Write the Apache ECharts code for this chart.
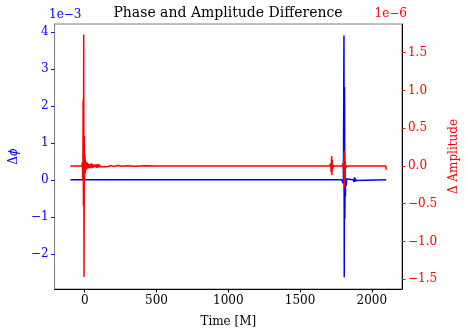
<!DOCTYPE html>
<html>
<head>
<meta charset="utf-8">
<script src="https://cdn.jsdelivr.net/npm/echarts@6/dist/echarts.min.js"></script>
<style>
  html, body { margin: 0; padding: 0; background: #fff; }
  #chart { width: 468px; height: 333px; }
</style>
</head>
<body>
<div id="chart"></div>
<script>
// tick labels
var xTicks = [0, 500, 1000, 1500, 2000];
var phaseTicks = [-2, -1, 0, 1, 2, 3, 4];
var ampTicks = [-1.5, -1.0, -0.5, 0.0, 0.5, 1.0, 1.5];

// phase difference, units of 1e-3: [time, value]
var phaseData = [
  [-100, 0], [1790, 0], [1798, 0.05], [1802, -0.1], [1806, 3.9], [1808, -2.63],
  [1810, 2.5], [1812, -1.05], [1814, 0.3], [1816, -0.45], [1818, 0.05],
  [1821, -0.15], [1825, 0.02], [1830, 0], [1870, 0], [1873, 0.04],
  [1876, -0.06], [1879, 0.07], [1882, -0.06], [1885, 0.04], [1889, -0.02],
  [1894, 0], [2100, 0]
];

// amplitude difference, units of 1e-6: [time, value]
var ampData = [
  [-100, 0], [-20, 0], [-16, 0.05], [-13, -0.2], [-11, 0.88], [-9, -0.53],
  [-7, 1.74], [-5, -1.47], [-3, 0.4], [-1, -0.2], [1, 0.15], [3, -0.1],
  [5, 0.08], [8, -0.06], [11, 0.05], [14, -0.04], [18, 0.04], [22, -0.035],
  [26, 0.03], [30, -0.025], [35, 0.02], [40, -0.03], [45, 0.035], [50, -0.03],
  [55, 0.025], [60, -0.02], [66, 0.015], [72, -0.015], [78, 0.02], [84, -0.025],
  [90, 0.025], [96, -0.02], [102, 0.015], [110, -0.012], [118, 0.012],
  [126, -0.01], [135, 0.01], [145, -0.012], [155, 0.012], [165, -0.008],
  [180, 0.006], [200, -0.006], [230, 0.005], [260, -0.005], [300, 0.004],
  [350, -0.003], [420, 0.003], [500, 0], [1705, 0], [1714, 0.03],
  [1717, -0.08], [1720, 0.13], [1722, -0.12], [1724, 0.08], [1727, -0.04],
  [1732, 0], [1796, 0], [1800, 0.04], [1803, -0.08], [1806, 0.18],
  [1808, -0.3], [1810, 0.2], [1812, -0.22], [1815, 0.06], [1818, -0.03],
  [1825, 0], [1874, 0], [1877, 0.02], [1879, -0.02], [1882, 0],
  [2098, 0], [2100, -0.05]
];

var serif = 'DejaVu Serif';
var minus = function (s) { return String(s).replace('-', '\u2212'); };

var myChart = echarts.init(document.getElementById('chart'));
var option = {
  animation: false,
  backgroundColor: '#fff',
  grid: {
    left: 49, right: 61, top: 24, bottom: 42,
    show: true, borderColor: '#808080', borderWidth: 1
  },
  graphic: [
    { type: 'text', x: 228, y: 13, style: { text: 'Phase and Amplitude Difference', font: '14px "DejaVu Serif"', fill: '#000', textAlign: 'center', textVerticalAlign: 'middle' } },
    { type: 'text', x: 49, y: 15, style: { text: '1e\u22123', font: '12px "DejaVu Serif"', fill: '#0000ff', textAlign: 'left', textVerticalAlign: 'middle' } },
    { type: 'text', x: 407, y: 14, style: { text: '1e\u22126', font: '12px "DejaVu Serif"', fill: '#ff0000', textAlign: 'right', textVerticalAlign: 'middle' } }
  ],
  xAxis: {
    type: 'value', min: -210, max: 2210,
    name: 'Time [M]', nameLocation: 'middle', nameGap: 27,
    nameTextStyle: { fontFamily: serif, fontSize: 12, color: '#000' },
    splitLine: { show: false },
    axisLine: { show: true, onZero: false, lineStyle: { color: '#000', width: 1 } },
    axisTick: { show: true, customValues: xTicks, length: 3.5, lineStyle: { color: '#000' } },
    axisLabel: { customValues: xTicks, fontFamily: serif, fontSize: 12, color: '#000', margin: 6,
      formatter: function (v) { return minus(v); } }
  },
  yAxis: [
    {
      type: 'value', min: -2.95, max: 4.21, position: 'left',
      name: '{d|Δ}{p|ϕ}', nameLocation: 'middle', nameGap: 34, nameRotate: 90,
      nameTextStyle: { color: '#0000ff', rich: {
        d: { fontFamily: serif, fontSize: 12, color: '#0000ff' },
        p: { fontFamily: 'DejaVu Sans', fontStyle: 'italic', fontSize: 12, color: '#0000ff' }
      } },
      splitLine: { show: false },
      axisLine: { show: true, onZero: false, lineStyle: { color: '#808080', width: 1 } },
      axisTick: { show: true, customValues: phaseTicks, length: 3.5, lineStyle: { color: '#0000ff' } },
      axisLabel: { customValues: phaseTicks, fontFamily: serif, fontSize: 12, color: '#0000ff', margin: 6,
        formatter: function (v) { return minus(v); } }
    },
    {
      type: 'value', min: -1.63, max: 1.88, position: 'right',
      name: 'Δ Amplitude', nameLocation: 'middle', nameGap: 44, nameRotate: 90,
      nameTextStyle: { fontFamily: serif, fontSize: 12, color: '#ff0000' },
      splitLine: { show: false },
      axisLine: { show: true, onZero: false, lineStyle: { color: '#000', width: 1 } },
      axisTick: { show: true, customValues: ampTicks, length: 3.5, lineStyle: { color: '#ff0000' } },
      axisLabel: { customValues: ampTicks, fontFamily: serif, fontSize: 12, color: '#ff0000', margin: 6,
        formatter: function (v) { return minus(v.toFixed(1)); } }
    }
  ],
  series: [
    {
      name: 'phase', type: 'line', yAxisIndex: 0, data: phaseData,
      showSymbol: false, lineStyle: { color: '#0000ff', width: 1.5 }, z: 2
    },
    {
      name: 'amplitude', type: 'line', yAxisIndex: 1, data: ampData,
      showSymbol: false, lineStyle: { color: '#ff0000', width: 1.5 }, z: 3
    }
  ]
};
myChart.setOption(option);
</script>
</body>
</html>
